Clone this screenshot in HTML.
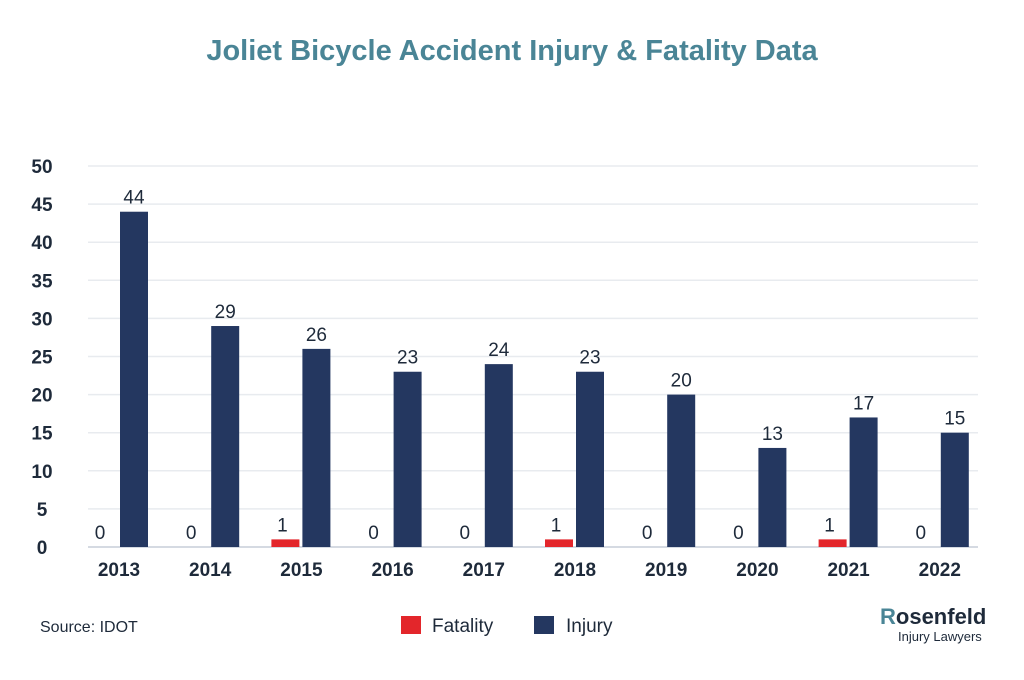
<!DOCTYPE html>
<html><head><meta charset="utf-8"><style>
body{margin:0;background:#fff;width:1024px;height:675px;overflow:hidden;font-family:"Liberation Sans",sans-serif}
svg text{font-family:"Liberation Sans",sans-serif}
</style></head><body>
<svg id="chart" width="1024" height="675">
<text x="512" y="60" text-anchor="middle" font-size="29" font-weight="bold" fill="#4a8596">Joliet Bicycle Accident Injury &amp; Fatality Data</text>
<g id="grid"></g><g id="bars"></g>
<text x="40" y="632" font-size="16" fill="#1e2a3a">Source: IDOT</text>
<g>
<rect x="401" y="616" width="20" height="18" fill="#e3262b"/>
<text x="432" y="632" font-size="19" fill="#1e2a3a">Fatality</text>
<rect x="534" y="616" width="20" height="18" fill="#243760"/>
<text x="566" y="632" font-size="19" fill="#1e2a3a">Injury</text>
</g>
<g>
<text x="880" y="624" font-size="22" font-weight="bold" fill="#1e2a3a"><tspan fill="#4a8596">R</tspan>osenfeld</text>
<text x="898" y="641" font-size="13" fill="#1e2a3a">Injury Lawyers</text>
</g>
</svg>
<script>
const years=["2013","2014","2015","2016","2017","2018","2019","2020","2021","2022"];
const fatality=[0,0,1,0,0,1,0,0,1,0];
const injury=[44,29,26,23,24,23,20,13,17,15];
const ticks=[0,5,10,15,20,25,30,35,40,45,50];
const NS="http://www.w3.org/2000/svg";
const y0=547,yTop=166,ymax=50;
const y=v=>y0-(v/ymax)*(y0-yTop);
const x0=73.4,band=91.2;
const cx=i=>x0+band*i+band/2;
const grid=document.getElementById('grid'),bars=document.getElementById('bars');
function mk(tag,attrs,parent){const e=document.createElementNS(NS,tag);for(const k in attrs)e.setAttribute(k,attrs[k]);parent.appendChild(e);return e;}
ticks.forEach(t=>{
 const l=mk('line',{x1:88,x2:978,y1:y(t),y2:y(t),stroke:t===0?'#d5dae2':'#e8ebef','stroke-width':t===0?2:1.5},grid);
 
 
 const tx=mk('text',{x:42,y:y(t)+7,'text-anchor':'middle','font-size':19,'font-weight':'bold',fill:'#1e2a3a'},grid);
 tx.textContent=t;
 
 
});
years.forEach((yr,i)=>{
 const c=cx(i);
 const f=mk('rect',{x:c-30,y:y(fatality[i]),width:28,height:y0-y(fatality[i]),fill:'#e3262b'},bars);
 
 
 const fl=mk('text',{x:c-19,y:y(fatality[i])-8,'text-anchor':'middle','font-size':19,fill:'#1e2a3a'},bars);
 fl.textContent=fatality[i];
 
 
 const b=mk('rect',{x:c+1,y:y(injury[i]),width:28,height:y0-y(injury[i]),fill:'#243760'},bars);
 
 
 const bl=mk('text',{x:c+15,y:y(injury[i])-8,'text-anchor':'middle','font-size':19,fill:'#1e2a3a'},bars);
 bl.textContent=injury[i];
 
 
 const xl=mk('text',{x:c,y:576,'text-anchor':'middle','font-size':19,'font-weight':'bold',fill:'#1e2a3a'},bars);
 xl.textContent=yr;
 
 
});
</script>
</body></html>
